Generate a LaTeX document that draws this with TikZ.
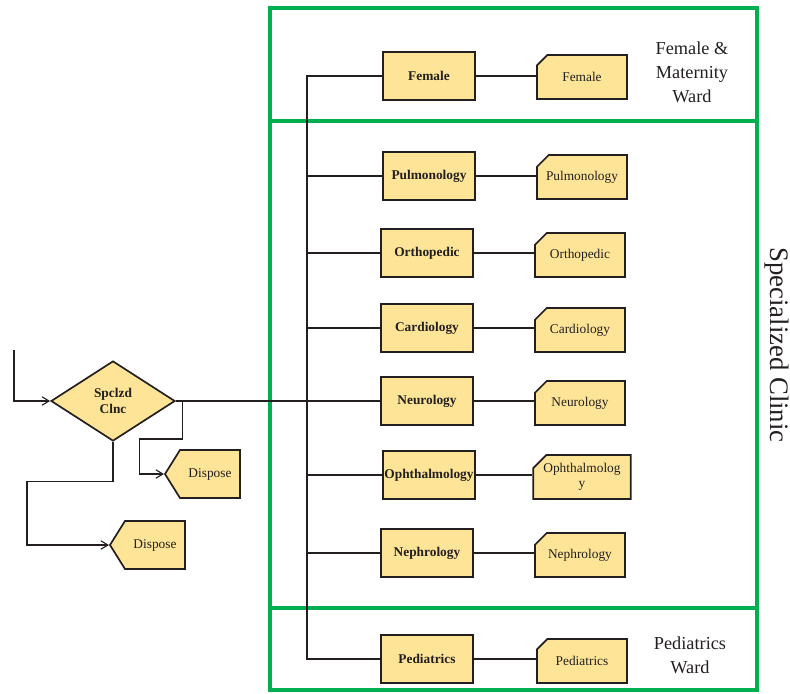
\documentclass[tikz,border=0pt]{standalone}
\usepackage{fontspec}
\setmainfont{Liberation Serif}
\usetikzlibrary{arrows.meta, shapes.geometric, shapes.misc, shapes.symbols}
\definecolor{boxfill}{RGB}{253,228,150}
\definecolor{wardgreen}{RGB}{0,176,80}
\definecolor{ink}{RGB}{35,31,32}

\begin{document}
\begin{tikzpicture}[x=0.025cm, y=-0.025cm, >={Straight Barb[length=5pt,width=6pt]},
	line/.style={draw=ink, line width=0.8pt},
	unit/.style={draw=ink, line width=1.2pt, fill=boxfill, minimum width=2.3cm, minimum height=1.2cm, inner sep=1pt, text=ink, font=\fontsize{9.5}{11}\selectfont\bfseries},
	card/.style={chamfered rectangle, chamfered rectangle corners=north west, chamfered rectangle xsep=0.22cm, draw=ink, line width=1.2pt, fill=boxfill, minimum width=2.25cm, minimum height=1.1cm, inner sep=1pt, align=center, text=ink, font=\fontsize{9.5}{11}\selectfont},
	decision/.style={diamond, draw=ink, line width=1.2pt, fill=boxfill, minimum width=3.1cm, minimum height=2cm, inner sep=0pt, align=center, text=ink, font=\fontsize{9.5}{11}\selectfont\bfseries},
	dispose/.style={signal, signal to=west, signal from=nowhere, signal pointer angle=116, draw=ink, line width=1.2pt, fill=boxfill, minimum width=1.875cm, minimum height=1.2cm, inner sep=1pt, text=ink, font=\fontsize{9.5}{11}\selectfont},
	ward/.style={text=ink, align=center, font=\fontsize{13}{17}\selectfont}]
	\useasboundingbox (0,0) rectangle (790,693);

	%green frames
	\draw[wardgreen, line width=3.5pt] (270,8) rectangle (757,690);
	\draw[wardgreen, line width=3.5pt] (270,121) -- (757,121);
	\draw[wardgreen, line width=3.5pt] (270,608) -- (757,608);

	%decision and disposal
	\node[decision] (clinic) at (113,401) {Spclzd\\Clnc};
	\node[dispose] (dispose1) at (210,474) {Dispose};
	\node[dispose] (dispose2) at (155,545) {Dispose};
	\coordinate (in) at (14,350);

	%wards
	\node[unit] (female) at (429,76)  {Female};
	\node[unit] (pulmo)  at (429,176) {Pulmonology};
	\node[unit] (ortho)  at (427,253) {Orthopedic};
	\node[unit] (cardio) at (427,328) {Cardiology};
	\node[unit] (neuro)  at (427,401) {Neurology};
	\node[unit] (ophth)  at (429,475) {Ophthalmology};
	\node[unit] (nephro) at (427,553) {Nephrology};
	\node[unit] (pedia)  at (427,659) {Pediatrics};

	%records
	\node[card] (femaleR) at (582,77)  {Female};
	\node[card] (pulmoR)  at (582,177) {Pulmonology};
	\node[card] (orthoR)  at (580,255) {Orthopedic};
	\node[card] (cardioR) at (580,330) {Cardiology};
	\node[card] (neuroR)  at (580,403) {Neurology};
	\node[card] (ophthR)  at (582,477) {Ophthalmolog\\y};
	\node[card] (nephroR) at (580,555) {Nephrology};
	\node[card] (pediaR)  at (582,661) {Pediatrics};

	%connectors
	\coordinate (trunk) at (307,0);
	\draw[line] (female.west) -- (trunk |- female) -- (trunk |- pedia) -- (pedia.west);
	\draw[line] (trunk |- pulmo) -- (pulmo.west);
	\draw[line] (trunk |- ortho) -- (ortho.west);
	\draw[line] (trunk |- cardio) -- (cardio.west);
	\draw[line] (trunk |- ophth) -- (ophth.west);
	\draw[line] (trunk |- nephro) -- (nephro.west);
	\draw[line] (clinic.east) -- (neuro.west);
	\draw[line] (female.east) -- (female -| femaleR.west);
	\draw[line] (pulmo.east) -- (pulmo -| pulmoR.west);
	\draw[line] (ortho.east) -- (ortho -| orthoR.west);
	\draw[line] (cardio.east) -- (cardio -| cardioR.west);
	\draw[line] (neuro.east) -- (neuro -| neuroR.west);
	\draw[line] (ophth.east) -- (ophth -| ophthR.west);
	\draw[line] (nephro.east) -- (nephro -| nephroR.west);
	\draw[line] (pedia.east) -- (pedia -| pediaR.west);
	\draw[line,->] (in) |- (clinic.west);
	\draw[line,->] (clinic.east) ++(7,0) -- ++(0,38) -- ++(-43,0) |- (dispose1.west);
	\draw[line,->] (clinic.south) -- ++(0,40) -- ++(-86,0) |- (dispose2.west);

	%labels
	\node[ward] (femaleWard) at (692,72)  {Female \&\\Maternity\\Ward};
	\node[ward] (pediaWard)  at (690,655) {Pediatrics\\Ward};
	\node[text=ink, rotate=-90, inner sep=1pt, font=\fontsize{19}{22}\selectfont] (special) at (777,345) {Specialized Clinic};
\end{tikzpicture}
\end{document}
